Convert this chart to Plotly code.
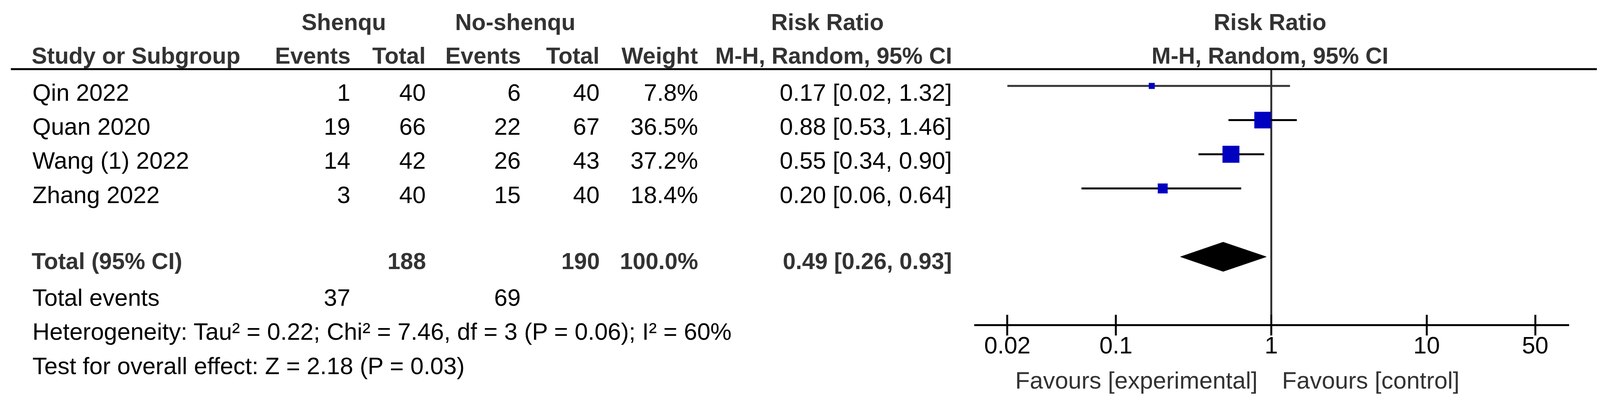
import plotly.graph_objects as go

# ---------------- data ----------------
studies = ["Qin 2022", "Quan 2020", "Wang (1) 2022", "Zhang 2022"]
exp_events = [1, 19, 14, 3]
exp_total = [40, 66, 42, 40]
ctl_events = [6, 22, 26, 15]
ctl_total = [40, 67, 43, 40]
weights = [7.8, 36.5, 37.2, 18.4]
rr = [0.17, 0.88, 0.55, 0.20]
ci_lo = [0.02, 0.53, 0.34, 0.06]
ci_hi = [1.32, 1.46, 0.90, 0.64]

total_label = "Total (95% CI)"
total_exp_n = 188
total_ctl_n = 190
total_weight = 100.0
total_rr = 0.49
total_lo = 0.26
total_hi = 0.93
total_events_label = "Total events"
total_exp_events = 37
total_ctl_events = 69
het_text = "Heterogeneity: Tau² = 0.22; Chi² = 7.46, df = 3 (P = 0.06); I² = 60%"
overall_text = "Test for overall effect: Z = 2.18 (P = 0.03)"

group_headers = ["Shenqu", "No-shenqu", "Risk Ratio", "Risk Ratio"]
col_headers = ["Study or Subgroup", "Events", "Total", "Events", "Total", "Weight",
               "M-H, Random, 95% CI", "M-H, Random, 95% CI"]
tick_vals = [0.02, 0.1, 1, 10, 50]
tick_text = ["0.02", "0.1", "1", "10", "50"]
favours_left = "Favours [experimental]"
favours_right = "Favours [control]"

# ---------------- layout constants ----------------
# Reference pixel coordinates (4422 x 1037) are mapped onto the 4096-px-wide
# viewport; the page body has an 8 px margin.
REF_W = 4422
VIEW_W = 4096
K = VIEW_W / REF_W
OFF = 8
FIG_W, FIG_H = 4080, 1021

FONT = "Liberation Sans, Arial, sans-serif"
FS = 61
FSB = 59
DARK = "#333333"
BLUE = "#0000C0"

ROW0_PX = 220.0
ROW_PX = 87.5
PLOT_TOP = 177.0
PLOT_BOT = 829.5
X_LEFT, X_RIGHT = 2692.0, 4337.0
X_ONE, DECADE = 3513.5, 429.3
TEXT_SHIFT = 16.5


def pxx(x):
    return (x * K - OFF) / FIG_W


def pyy(y):
    return 1 - (y - OFF) / FIG_H


def row_px(i):
    return ROW0_PX + ROW_PX * i


annotations = []


def ann(text, x, y, xanchor, bold=False, color="black"):
    annotations.append(dict(
        text=("<b>%s</b>" % text) if bold else text,
        x=pxx(x), y=pyy(y), xref="paper", yref="paper",
        xanchor=xanchor, yanchor="middle", showarrow=False,
        font=dict(family=FONT, size=FSB if bold else FS, color=color),
    ))


# headers
Y_H1, Y_H2 = 57, 142.5
ann(group_headers[0], 950, Y_H1, "center", True, DARK)
ann(group_headers[1], 1424, Y_H1, "center", True, DARK)
ann(group_headers[2], 2287, Y_H1, "center", True, DARK)
ann(group_headers[3], 3510, Y_H1, "center", True, DARK)
col_x = [85, 971, 1179, 1441, 1659, 1931, 2633, 3510]
col_anchor = ["left", "right", "right", "right", "right", "right", "right", "center"]
for t, x, a in zip(col_headers, col_x, col_anchor):
    ann(t, x, Y_H2, a, True, DARK)

# study rows
for i, s in enumerate(studies):
    y = row_px(i) + TEXT_SHIFT
    ann(s, 87, y, "left")
    ann(str(exp_events[i]), 971, y, "right")
    ann(str(exp_total[i]), 1179, y, "right")
    ann(str(ctl_events[i]), 1441, y, "right")
    ann(str(ctl_total[i]), 1659, y, "right")
    ann("%.1f%%" % weights[i], 1931, y, "right")
    ann("%.2f [%.2f, %.2f]" % (rr[i], ci_lo[i], ci_hi[i]), 2633, y, "right")

# total rows
TOTAL_IDX = 5
yt = row_px(TOTAL_IDX) + TEXT_SHIFT - 5
ann(total_label, 85, yt, "left", True, DARK)
ann(str(total_exp_n), 1179, yt, "right", True, DARK)
ann(str(total_ctl_n), 1659, yt, "right", True, DARK)
ann("%.1f%%" % total_weight, 1931, yt, "right", True, DARK)
ann("%.2f [%.2f, %.2f]" % (total_rr, total_lo, total_hi), 2633, yt, "right", True, DARK)

ye = row_px(6) + TEXT_SHIFT
ann(total_events_label, 87, ye, "left")
ann(str(total_exp_events), 971, ye, "right")
ann(str(total_ctl_events), 1441, ye, "right")
ann(het_text, 87, row_px(7) + TEXT_SHIFT, "left")
ann(overall_text, 87, row_px(8) + TEXT_SHIFT, "left")

ann(favours_left, 3477, 974, "right", False, DARK)
ann(favours_right, 3541, 974, "left", False, DARK)

# ---------------- traces ----------------
fig = go.Figure()
line_colors = ["#333333", "black", "black", "black"]
for i in range(len(studies)):
    fig.add_trace(go.Scatter(
        x=[ci_lo[i], ci_hi[i]], y=[i, i], mode="lines",
        line=dict(color=line_colors[i], width=5), hoverinfo="skip"))

fig.add_trace(go.Scatter(
    x=rr, y=list(range(len(studies))), mode="markers",
    marker=dict(symbol="square", size=[8.0 + 0.95 * w for w in weights],
                color=BLUE, opacity=1, line=dict(width=0)),
))

DIAMOND_HALF = 37.5 / ROW_PX
fig.add_trace(go.Scatter(
    x=[total_lo, total_rr, total_hi, total_rr, total_lo],
    y=[TOTAL_IDX, TOTAL_IDX - DIAMOND_HALF, TOTAL_IDX, TOTAL_IDX + DIAMOND_HALF, TOTAL_IDX],
    mode="lines", fill="toself", fillcolor="black",
    line=dict(color="black", width=1), hoverinfo="skip"))

xr = [(X_LEFT - X_ONE) / DECADE, (X_RIGHT - X_ONE) / DECADE]
yr = [(PLOT_BOT - ROW0_PX) / ROW_PX, (PLOT_TOP - ROW0_PX) / ROW_PX]

shapes = [
    dict(type="line", xref="paper", yref="paper", x0=pxx(30), x1=1.0,
         y0=pyy(177), y1=pyy(177), line=dict(color="black", width=5)),
    dict(type="line", xref="x", yref="y domain", x0=1, x1=1, y0=0, y1=1,
         line=dict(color=DARK, width=5), layer="below"),
]

fig.update_layout(
    width=FIG_W, height=FIG_H, margin=dict(l=0, r=0, t=0, b=0),
    paper_bgcolor="white", plot_bgcolor="white", showlegend=False,
    annotations=annotations, shapes=shapes,
    xaxis=dict(type="log", range=xr, domain=[pxx(X_LEFT), pxx(X_RIGHT)], anchor="y",
               showline=True, linecolor="black", linewidth=5, showgrid=False, zeroline=False,
               ticks="outside", ticklen=24, tickwidth=5, tickcolor="black",
               tickvals=tick_vals, ticktext=tick_text, ticklabelstandoff=-27,
               tickfont=dict(family=FONT, size=FS, color="black"), fixedrange=True),
    xaxis2=dict(type="log", range=xr, overlaying="x", anchor="y", side="bottom",
                showline=False, showgrid=False, zeroline=False,
                ticks="inside", ticklen=24, tickwidth=5, tickcolor="black",
                tickvals=tick_vals, showticklabels=False),
    yaxis=dict(range=yr, domain=[pyy(PLOT_BOT), pyy(PLOT_TOP)], visible=False, fixedrange=True),
)
fig.add_trace(go.Scatter(x=[1], y=[None], xaxis="x2", yaxis="y", showlegend=False))

fig.write_html("out.html")
